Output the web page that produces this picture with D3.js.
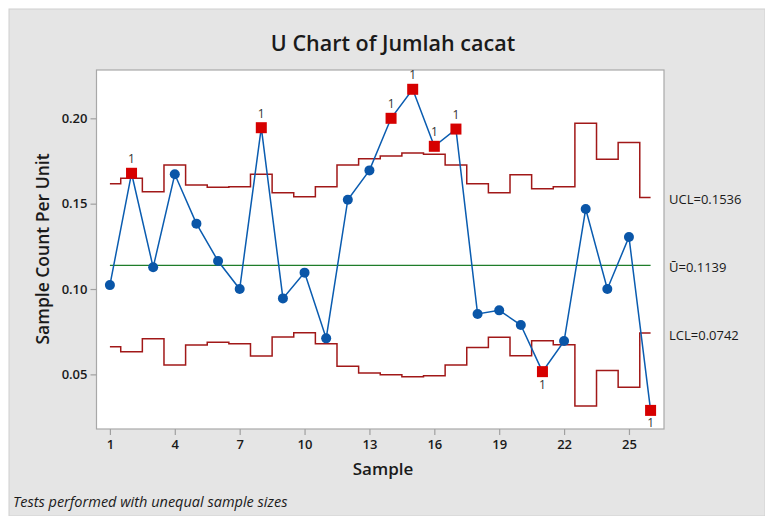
<!DOCTYPE html>
<html>
<head>
<meta charset="utf-8">
<script src="https://cdn.jsdelivr.net/npm/d3@7/dist/d3.min.js"></script>
<style>
  html, body { margin: 0; padding: 0; background: #ffffff; }
  svg { display: block; }
  text { font-family: "Open Sans", "Noto Sans", sans-serif; fill: #1a1a1a; }
</style>
</head>
<body>
<svg id="chart" width="765" height="516"></svg>
<script>
// ---- Data ----
const samples = [1,2,3,4,5,6,7,8,9,10,11,12,13,14,15,16,17,18,19,20,21,22,23,24,25,26];
const uValues = [0.1023,0.1678,0.1127,0.1672,0.1383,0.1164,0.1000,0.1945,0.0945,0.1096,0.0711,0.1523,0.1695,
                 0.2000,0.2170,0.1836,0.1937,0.0854,0.0875,0.0789,0.0516,0.0695,0.1469,0.1000,0.1305,0.0289];
const uclValues = [0.1617,0.1649,0.1570,0.1726,0.1609,0.1596,0.1599,0.1672,0.1564,0.1541,0.1599,0.1726,0.1763,
                   0.1779,0.1797,0.1789,0.1726,0.1617,0.1564,0.1670,0.1588,0.1599,0.1971,0.1760,0.1859,0.1536];
const lclValues = [0.0662,0.0633,0.0709,0.0555,0.0672,0.0688,0.0680,0.0607,0.0719,0.0744,0.0680,0.0547,0.0508,
                   0.0498,0.0486,0.0492,0.0555,0.0657,0.0717,0.0609,0.0697,0.0674,0.0315,0.0522,0.0424,0.0742];
const centerValue = 0.1139;
const xTickValues = [1,4,7,10,13,16,19,22,25];
const yTickValues = [0.05,0.10,0.15,0.20];
const title = "U Chart of Jumlah cacat";
const xTitle = "Sample";
const yTitle = "Sample Count Per Unit";
const footnote = "Tests performed with unequal sample sizes";
const limitLabels = ["UCL=0.1536", "\u016A=0.1139", "LCL=0.0742"];

// ---- Layout ----
const svg = d3.select("#chart");
const W = 765, H = 516;
const plot = { left: 96.5, top: 70, right: 664, bottom: 429 };

svg.append("rect").attr("x", 9).attr("y", 9).attr("width", W - 9).attr("height", H - 9)
  .attr("fill", "#e5e5e5").attr("stroke", "#d0d0d0").attr("stroke-width", 1);

const x = d3.scaleLinear().domain([0.38, 26.62]).range([plot.left, plot.right]);
const y = d3.scaleLinear().domain([0.018, 0.2283]).range([plot.bottom, plot.top]);

svg.append("rect").attr("x", plot.left).attr("y", plot.top)
  .attr("width", plot.right - plot.left).attr("height", plot.bottom - plot.top)
  .attr("fill", "#ffffff").attr("stroke", "#a8a8a8").attr("stroke-width", 1.2);

// Axes
const xAxis = svg.append("g").attr("transform", `translate(0,${plot.bottom})`)
  .call(d3.axisBottom(x).tickValues(xTickValues).tickSize(6).tickPadding(5).tickFormat(d3.format("d")));
const yAxis = svg.append("g").attr("transform", `translate(${plot.left},0)`)
  .call(d3.axisLeft(y).tickValues(yTickValues).tickSize(6).tickPadding(3).tickFormat(d3.format(".2f")));
[xAxis, yAxis].forEach(a => {
  a.select(".domain").remove();
  a.selectAll(".tick line").attr("stroke", "#a0a0a0").attr("stroke-width", 1.2);
  a.selectAll(".tick text").attr("font-size", 13).attr("font-family", "'Open Sans', sans-serif")
    .attr("font-weight", 600).attr("fill", "#1a1a1a");
});

// Limits
const stepLine = d3.line().x((d, i) => x(samples[i])).y(d => y(d)).curve(d3.curveStep);
svg.append("path").datum(uclValues).attr("d", stepLine)
  .attr("fill", "none").attr("stroke", "#a11818").attr("stroke-width", 1.5);
svg.append("path").datum(lclValues).attr("d", stepLine)
  .attr("fill", "none").attr("stroke", "#a11818").attr("stroke-width", 1.5);
svg.append("line").attr("x1", x(samples[0])).attr("x2", x(samples[samples.length - 1]))
  .attr("y1", y(centerValue)).attr("y2", y(centerValue))
  .attr("stroke", "#1f7d2a").attr("stroke-width", 1.3);

// Data line
const dataLine = d3.line().x((d, i) => x(samples[i])).y(d => y(d));
svg.append("path").datum(uValues).attr("d", dataLine)
  .attr("fill", "none").attr("stroke", "#0a5cb0").attr("stroke-width", 1.5);

const pts = samples.map((s, i) => ({ s, v: uValues[i], out: uValues[i] > uclValues[i] ? 1 : (uValues[i] < lclValues[i] ? -1 : 0) }));

svg.selectAll("circle.pt").data(pts.filter(d => d.out === 0)).enter().append("circle")
  .attr("cx", d => x(d.s)).attr("cy", d => y(d.v)).attr("r", 5).attr("fill", "#0a56a8");
const sq = 11;
svg.selectAll("rect.pt").data(pts.filter(d => d.out !== 0)).enter().append("rect")
  .attr("x", d => x(d.s) - sq / 2).attr("y", d => y(d.v) - sq / 2)
  .attr("width", sq).attr("height", sq).attr("fill", "#d60000");
svg.selectAll("text.flag").data(pts.filter(d => d.out !== 0)).enter().append("text")
  .attr("x", d => x(d.s)).attr("y", d => d.out > 0 ? y(d.v) - 10 : y(d.v) + 17)
  .attr("text-anchor", "middle").attr("font-size", 12).style("fill", "#333333").text("1");

// Limit labels
const lastIdx = samples.length - 1;
[uclValues[lastIdx], centerValue, lclValues[lastIdx]].forEach((v, i) => {
  svg.append("text").attr("x", 669).attr("y", y(v) + 3).attr("dominant-baseline", "middle")
    .attr("font-size", 13).attr("fill", "#1a1a1a").text(limitLabels[i]);
});

// Titles
svg.append("text").attr("x", 393).attr("y", 51).attr("text-anchor", "middle")
  .attr("font-size", 21.5).attr("font-weight", 600).text(title);
svg.append("text").attr("x", 383).attr("y", 475).attr("text-anchor", "middle")
  .attr("font-size", 17).attr("font-weight", 600).text(xTitle);
svg.append("text").attr("transform", "translate(49,249) rotate(-90)").attr("text-anchor", "middle")
  .attr("font-size", 17.5).attr("font-weight", 600).text(yTitle);
svg.append("text").attr("x", 13).attr("y", 507).attr("font-size", 14.5).attr("font-style", "italic")
  .text(footnote);
</script>
</body>
</html>
